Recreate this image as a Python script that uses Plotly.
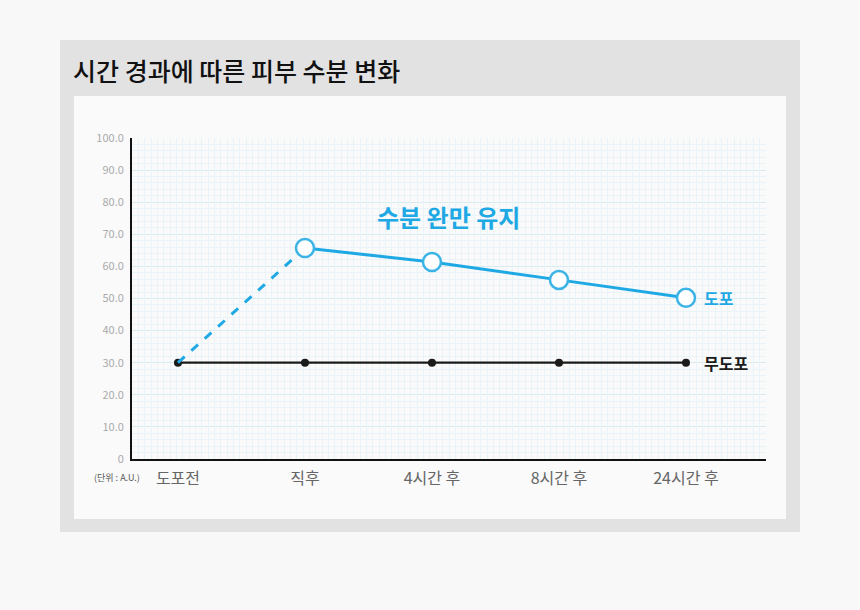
import plotly.graph_objects as go

categories = ["도포전", "직후", "4시간 후", "8시간 후", "24시간 후"]
applied = [30.0, 65.7, 61.4, 55.8, 50.2]
untreated = [30.0, 30.0, 30.0, 30.0, 30.0]
ytick_vals = [0, 10, 20, 30, 40, 50, 60, 70, 80, 90, 100]
ytick_text = ["0", "10.0", "20.0", "30.0", "40.0", "50.0", "60.0", "70.0", "80.0", "90.0", "100.0"]

KR = "Noto Sans CJK KR"
BLUE = "#1fa9e4"

fig = go.Figure()

# invisible trace on linear overlay axis to draw fine vertical grid
fig.add_trace(go.Scatter(x=[0, 1], y=[0, 0], xaxis="x2", yaxis="y",
                         mode="markers", marker=dict(opacity=0), showlegend=False, hoverinfo="skip"))

# untreated (black)
fig.add_trace(go.Scatter(x=categories, y=untreated, mode="lines+markers",
                         line=dict(color="#1a1a1a", width=2.2),
                         marker=dict(color="#1a1a1a", size=8), showlegend=False))

# dashed segment from baseline to right after
fig.add_trace(go.Scatter(x=categories[:2], y=applied[:2], mode="lines",
                         line=dict(color=BLUE, width=3, dash="dash"), showlegend=False))
# solid segment
fig.add_trace(go.Scatter(x=categories[1:], y=applied[1:], mode="lines+markers",
                         line=dict(color=BLUE, width=3),
                         marker=dict(color="white", size=18, line=dict(color="#3bb3e6", width=2.5)),
                         showlegend=False))

fig.update_layout(
    width=860, height=610,
    margin=dict(l=132, r=94, t=138, b=151),
    paper_bgcolor="#f8f8f8",
    plot_bgcolor="#f0f8fb",
    font=dict(family=KR),
    xaxis=dict(type="category", range=[-0.362, 4.63], showgrid=False,
               showline=True, linecolor="#111", linewidth=2,
               ticks="", tickfont=dict(size=16, color="#666", family=KR),
               ticklabelstandoff=4, zeroline=False),
    xaxis2=dict(overlaying="x", range=[0, 1], showgrid=True, gridcolor="#eaf4f8",
                gridwidth=1, dtick=0.01, showticklabels=False, ticks="", zeroline=False,
                showline=False),
    yaxis=dict(range=[0, 100], tickvals=ytick_vals, ticktext=ytick_text,
               showgrid=True, gridcolor="#d6eaf0", gridwidth=1,
               minor=dict(dtick=2, showgrid=True, gridcolor="#eaf4f8", gridwidth=1),
               showline=True, linecolor="#111", linewidth=2, ticks="",
               tickfont=dict(size=11, color="#aaaaaa", family=KR),
               ticklabelstandoff=4, zeroline=False),
    shapes=[
        dict(type="rect", xref="paper", yref="paper", x0=-0.0 - (132 - 60) / 634, x1=1 + (800 - 766) / 634,
             y0=-(532 - 459) / 321, y1=1 + (138 - 40) / 321, fillcolor="#e2e2e2", line=dict(width=0), layer="below"),
        dict(type="rect", xref="paper", yref="paper", x0=-(132 - 74) / 634, x1=1 + (786 - 766) / 634,
             y0=-(519 - 459) / 321, y1=1 + (138 - 96) / 321, fillcolor="#fafafa", line=dict(width=0), layer="below"),
    ],
    annotations=[
        dict(text="시간 경과에 따른 피부 수분 변화", xref="paper", yref="paper",
             x=-(132 - 71) / 634, y=1 + (138 - 70) / 321, xanchor="left", yanchor="middle",
             showarrow=False, font=dict(size=25, color="#111", family=KR, weight=500)),
        dict(text="<b>수분 완만 유지</b>", xref="x", yref="y", x=2, y=75.5,
             xanchor="center", yanchor="middle", showarrow=False,
             font=dict(size=24, color=BLUE, family=KR), xshift=17),
        dict(text="<b>도포</b>", xref="x", yref="y", x=categories[-1], y=applied[-1],
             xanchor="left", yanchor="middle", showarrow=False, xshift=16,
             font=dict(size=16, color=BLUE, family=KR)),
        dict(text="<b>무도포</b>", xref="x", yref="y", x=categories[-1], y=untreated[-1],
             xanchor="left", yanchor="middle", showarrow=False, xshift=16,
             font=dict(size=16, color="#1a1a1a", family=KR)),
        dict(text="(단위 : A.U.)", xref="paper", yref="paper",
             x=-(132 - 117) / 634, y=-(477 - 459) / 321, xanchor="center", yanchor="middle",
             showarrow=False, font=dict(size=9, color="#555", family=KR)),
    ],
)

fig.write_html("out.html")
